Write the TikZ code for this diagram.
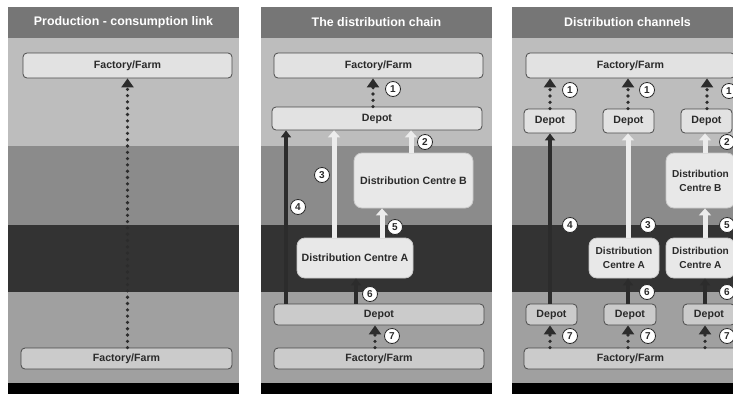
\documentclass[tikz,border=0pt]{standalone}
\usepackage{fontspec}
\setmainfont{Liberation Sans}
\usetikzlibrary{arrows.meta}
\definecolor{titlebg}{HTML}{767676}
\definecolor{bandA}{HTML}{BDBDBD}
\definecolor{bandB}{HTML}{8B8B8B}
\definecolor{bandC}{HTML}{333333}
\definecolor{bandD}{HTML}{A0A0A0}
\definecolor{boxtop}{HTML}{E2E2E2}
\definecolor{boxbot}{HTML}{CBCBCB}
\definecolor{boxline}{HTML}{4A4A4A}
\definecolor{dcfill}{HTML}{E8E8E8}
\definecolor{dcline}{HTML}{C8C8C8}
\definecolor{txt}{HTML}{2A2A2A}
\definecolor{darkarr}{HTML}{2C2C2C}
\definecolor{lightarr}{HTML}{ECECEC}
\begin{document}
\begin{tikzpicture}[x=1pt,y=-1pt,
  box/.style={draw=boxline, line width=0.8, rounded corners=4, fill=boxtop, text=txt,
    font=\bfseries\fontsize{10.6}{12}\selectfont, inner sep=0, align=center},
  boxb/.style={box, fill=boxbot},
  dcbox/.style={draw=dcline, line width=0.8, rounded corners=8, fill=dcfill, text=txt,
    font=\bfseries\fontsize{10.6}{14}\selectfont, inner sep=0, align=center},
  dcsmall/.style={dcbox, font=\bfseries\fontsize{10.1}{14}\selectfont},
  num/.style={circle, draw=txt, fill=white, line width=0.8, minimum size=15, inner sep=0,
    text=txt, font=\bfseries\fontsize{10}{10}\selectfont},
  ttl/.style={text=white, font=\bfseries\fontsize{12.4}{14}\selectfont},
  darr/.style={draw=darkarr, line width=3.2, -{Triangle[width=10,length=7]}},
  warr/.style={draw=lightarr, line width=5, -{Triangle[width=12,length=7]}},
  dotarr/.style={draw=darkarr, line width=3.6, line cap=round, dash pattern=on 0pt off 6.3pt,
    -{Triangle[width=12,length=9,line cap=butt]}}
]
\useasboundingbox (0,0) rectangle (733,394);
\fill[white] (0,0) rectangle (733,394);
% panels
\foreach \px in {8,261,512}{
  \fill[titlebg] (\px,7) rectangle ++(231,31);
  \fill[bandA] (\px,38) rectangle ++(231,108);
  \fill[bandB] (\px,146) rectangle ++(231,79);
  \fill[bandC] (\px,225) rectangle ++(231,67);
  \fill[bandD] (\px,292) rectangle ++(231,91);
  \fill[black] (\px,383) rectangle ++(231,11);
}
% titles
\node[ttl] (t1) at (123.5,22.5) {Production - consumption link};
\node[ttl] (t2) at (376.5,22.5) {The distribution chain};
\node[ttl] (t3) at (627.5,22.5) {Distribution channels};

% ---------- panel 1
\node[box, minimum width=209, minimum height=25] (p1top) at (127.5,65.5) {Factory/Farm};
\node[boxb, minimum width=211, minimum height=21] (p1bot) at (126.5,358.5) {Factory/Farm};
\draw[dotarr] (p1bot.north -| 127.5,0) -- (p1top.south -| 127.5,0);

% ---------- panel 2
\node[box, minimum width=209, minimum height=25] (p2top) at (378.5,65.5) {Factory/Farm};
\node[box, minimum width=210, minimum height=23] (p2dep) at (377,118.5) {Depot};
\node[dcbox, minimum width=119, minimum height=55] (p2dcb) at (413.5,180.5) {Distribution Centre B};
\node[dcbox, minimum width=116, minimum height=40] (p2dca) at (355,258) {Distribution Centre A};
\node[boxb, minimum width=210, minimum height=21] (p2bdep) at (379,314.5) {Depot};
\node[boxb, minimum width=210, minimum height=21] (p2bot) at (379,358.5) {Factory/Farm};
\draw[dotarr] (p2dep.north -| 373,0) -- (p2top.south -| 373,0);
\draw[darr] (p2bdep.north -| 286,0) -- (p2dep.south -| 286,0);
\draw[warr] (p2dca.north -| 334,0) -- (p2dep.south -| 334,0);
\draw[warr] (p2dcb.north -| 411,0) -- (p2dep.south -| 411,0);
\draw[warr] (p2dca.north -| 382,0) -- (p2dcb.south -| 382,0);
\draw[darr] (p2bdep.north -| 356,0) -- (p2dca.south -| 356,0);
\draw[dotarr] (p2bot.north -| 375,0) -- (p2bdep.south -| 375,0);
\node[num] (n21) at (393,89) {1};
\node[num] (n22) at (425,142) {2};
\node[num] (n23) at (322,175) {3};
\node[num] (n24) at (298,207) {4};
\node[num] (n25) at (395,227) {5};
\node[num] (n26) at (370,294) {6};
\node[num] (n27) at (392,336) {7};

% ---------- panel 3
\node[box, minimum width=209, minimum height=25] (p3top) at (630.5,65.5) {Factory/Farm};
\node[box, minimum width=52, minimum height=24] (p3d1) at (550,121) {Depot};
\node[box, minimum width=51, minimum height=24] (p3d2) at (628.5,121) {Depot};
\node[box, minimum width=51, minimum height=24] (p3d3) at (706.5,121) {Depot};
\node[dcsmall, minimum width=69, minimum height=55] (p3dcb) at (700.5,180.5) {Distribution\\Centre B};
\node[dcsmall, minimum width=70, minimum height=40] (p3dca1) at (624,258) {Distribution\\Centre A};
\node[dcsmall, minimum width=69, minimum height=40] (p3dca2) at (700.5,258) {Distribution\\Centre A};
\node[boxb, minimum width=51, minimum height=21] (p3b1) at (551.5,314.5) {Depot};
\node[boxb, minimum width=52, minimum height=21] (p3b2) at (630,314.5) {Depot};
\node[boxb, minimum width=52, minimum height=21] (p3b3) at (709,314.5) {Depot};
\node[boxb, minimum width=213, minimum height=21] (p3bot) at (630.5,358.5) {Factory/Farm};
\draw[dotarr] (p3d1.north -| 550,0) -- (p3top.south -| 550,0);
\draw[dotarr] (p3d2.north -| 628,0) -- (p3top.south -| 628,0);
\draw[dotarr] (p3d3.north -| 707,0) -- (p3top.south -| 707,0);
\draw[darr] (p3b1.north -| 550,0) -- (p3d1.south -| 550,0);
\draw[warr] (p3dca1.north -| 628,0) -- (p3d2.south -| 628,0);
\draw[warr] (p3dcb.north -| 705,0) -- (p3d3.south -| 705,0);
\draw[warr] (p3dca2.north -| 705,0) -- (p3dcb.south -| 705,0);
\draw[darr] (p3b2.north -| 628,0) -- (p3dca1.south -| 628,0);
\draw[darr] (p3b3.north -| 705,0) -- (p3dca2.south -| 705,0);
\draw[dotarr] (p3bot.north -| 550,0) -- (p3b1.south -| 550,0);
\draw[dotarr] (p3bot.north -| 628,0) -- (p3b2.south -| 628,0);
\draw[dotarr] (p3bot.north -| 705,0) -- (p3b3.south -| 705,0);
\node[num] (n31a) at (570,90) {1};
\node[num] (n31b) at (647,90) {1};
\node[num] (n31c) at (729,91) {1};
\node[num] (n32) at (727,142) {2};
\node[num] (n33) at (648,225) {3};
\node[num] (n34) at (570,225) {4};
\node[num] (n35) at (727,225) {5};
\node[num] (n36a) at (647,292) {6};
\node[num] (n36b) at (727,292) {6};
\node[num] (n37a) at (570,336) {7};
\node[num] (n37b) at (648,336) {7};
\node[num] (n37c) at (727,336) {7};
\end{tikzpicture}
\end{document}
